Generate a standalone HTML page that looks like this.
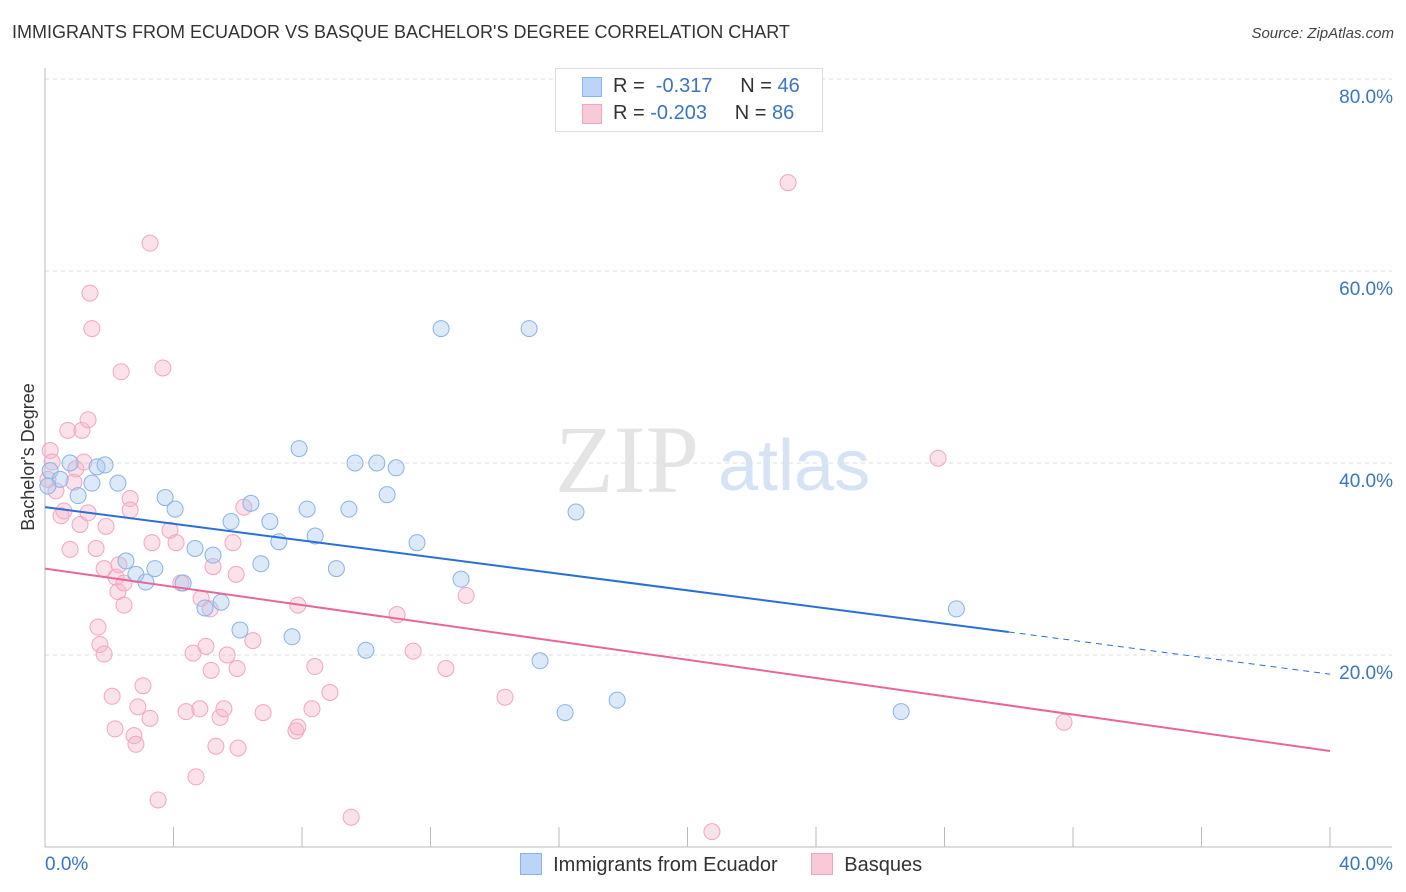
<!DOCTYPE html>
<html><head><meta charset="utf-8"><style>
body{margin:0;background:#fff;font-family:"Liberation Sans",sans-serif}
#wrap{position:relative;width:1406px;height:892px;overflow:hidden}
</style></head><body>
<div id="wrap">
<div style="position:absolute;left:12px;top:22px;font-size:18px;color:#333">IMMIGRANTS FROM ECUADOR VS BASQUE BACHELOR'S DEGREE CORRELATION CHART</div>
<div style="position:absolute;right:12px;top:25px;font-size:15px;color:#444;font-style:italic">Source: ZipAtlas.com</div>
<svg id="plot" width="1406" height="892" style="position:absolute;left:0;top:0"></svg>
</div>
<script>
const yTicks=[20,40,60,80];
const xTicks=[0,4,8,12,16,20,24,28,32,36,40];
const blueX=[0.16,0.47,0.09,1.46,0.78,1.62,1.87,1.03,2.27,2.52,2.83,3.14,3.42,3.74,4.05,4.30,4.67,4.98,5.23,5.48,5.79,6.07,6.41,6.72,7.00,7.28,7.69,7.91,8.16,8.41,9.07,9.46,9.65,9.99,10.33,10.65,10.93,11.58,12.33,12.95,15.07,15.41,16.19,16.53,17.81,26.65,28.37];
const blueY=[39.2,38.3,37.6,37.9,40.0,39.6,39.8,36.6,37.9,29.8,28.4,27.6,29.0,36.4,35.2,27.5,31.1,24.9,30.4,25.5,33.9,22.6,35.8,29.5,33.9,31.8,21.9,41.5,35.2,32.4,29.0,35.2,40.0,20.5,40.0,36.7,39.5,31.7,54.0,27.9,54.0,19.4,14.0,34.9,15.3,14.1,24.8];
const pinkX=[0.16,0.22,0.09,0.34,0.59,0.50,0.78,0.90,0.96,1.09,1.21,1.34,1.40,1.46,0.71,1.15,1.34,1.59,1.65,1.71,1.84,1.90,1.84,2.09,2.18,2.21,2.27,2.30,2.37,2.46,2.46,2.65,2.65,2.77,2.83,2.89,3.05,3.27,3.27,3.33,3.52,3.67,3.89,4.08,4.23,4.39,4.61,4.70,4.82,4.86,5.01,5.14,5.17,5.23,5.32,5.45,5.57,5.67,5.85,5.95,5.98,6.01,6.19,6.47,6.79,7.81,7.87,7.87,8.31,8.40,8.87,9.53,10.96,11.46,12.48,13.11,14.32,20.76,23.13,27.80,31.72];
const pinkY=[41.3,40.1,38.3,37.1,35.0,34.5,31.0,38.0,39.4,33.6,40.1,34.8,57.7,54.0,43.4,43.4,44.5,31.1,22.9,21.1,20.1,33.4,29.0,15.7,12.3,28.1,26.6,29.4,49.5,25.2,27.5,36.3,35.1,11.6,10.7,14.6,16.8,13.4,62.9,31.7,4.9,49.9,33.0,31.7,27.5,14.1,20.2,7.3,14.4,25.9,20.9,24.8,18.4,29.2,10.5,13.5,14.4,20.0,31.7,28.4,18.6,10.3,35.4,21.5,14.0,12.1,12.5,25.2,14.4,18.8,16.1,3.1,24.2,20.4,18.6,26.2,15.6,1.6,69.2,40.5,13.0];
const blueTrend=[35.4,22.4,18.0]; // at x=0, 30, 40
const pinkTrend=[29.0,10.0]; // at x=0, 40
const X=v=>45+v*32.125, Y=v=>847-v*9.6;
const svg=document.getElementById('plot');const NS='http://www.w3.org/2000/svg';
function mk(t,a){const e=document.createElementNS(NS,t);for(const k in a)e.setAttribute(k,a[k]);svg.appendChild(e);return e;}
yTicks.forEach(t=>{
 const g=mk('line',{x1:45,x2:1392,y1:Y(t),y2:Y(t),stroke:'#ddd','stroke-dasharray':'4,4'});
 
 
 const l=mk('text',{x:1393,y:Y(t)+24,'text-anchor':'end','font-size':19,fill:'#3a75c4','font-family':'Liberation Sans'});l.textContent=t.toFixed(1)+'%';
 
 
});
const ax=mk('line',{x1:45,x2:45,y1:68,y2:847,stroke:'#bbb'});


const bx=mk('line',{x1:45,x2:1392,y1:847,y2:847,stroke:'#bbb'});


xTicks.forEach(t=>{const e=mk('line',{x1:X(t),x2:X(t),y1:827,y2:847,stroke:'#bbb'});
 
 });
[[0,'start',45],[40,'end',1393]].forEach(([v,a,x])=>{const l=mk('text',{x:x,y:870,'text-anchor':a,'font-size':19,fill:'#3a75c4','font-family':'Liberation Sans'});l.textContent=v.toFixed(1)+'%';
 
 });
const yl=mk('text',{x:34,y:457,transform:'rotate(-90 34 457)','text-anchor':'middle','font-size':18,fill:'#333','font-family':'Liberation Sans'});yl.textContent="Bachelor's Degree";


const w1=mk('text',{x:555,y:492,'font-size':96,fill:'#e4e4e4','font-family':'Liberation Serif'});w1.textContent='ZIP';


const w2=mk('text',{x:718,y:490,'font-size':72,fill:'#d6e3f5','font-family':'Liberation Sans'});w2.textContent='atlas';


pinkX.forEach((v,i)=>{const c=mk('circle',{cx:X(v),cy:Y(pinkY[i]),r:8,fill:'rgba(246,180,202,0.4)',stroke:'#f2a5c0','stroke-width':1});
 
 });
blueX.forEach((v,i)=>{const c=mk('circle',{cx:X(v),cy:Y(blueY[i]),r:8,fill:'rgba(168,200,240,0.4)',stroke:'#8ab2e6','stroke-width':1});
 
 });
const t1=mk('line',{x1:X(0),y1:Y(blueTrend[0]),x2:X(30),y2:Y(blueTrend[1]),stroke:'#2a6fd6','stroke-width':2});


const t2=mk('line',{x1:X(30),y1:Y(blueTrend[1]),x2:X(40),y2:Y(blueTrend[2]),stroke:'#2a6fd6','stroke-width':1,'stroke-dasharray':'6,5'});


const t3=mk('line',{x1:X(0),y1:Y(pinkTrend[0]),x2:X(40),y2:Y(pinkTrend[1]),stroke:'#e8679a','stroke-width':2});


</script>
<div style="position:absolute;left:555px;top:68px;width:266px;height:62px;border:1px solid #ddd;background:#fff;font-size:20px;color:#333">
 <div style="position:absolute;left:26px;top:8px;width:18px;height:18px;background:#bcd4f6;border:1px solid #8ab2e6"></div>
 <div style="position:absolute;left:57px;top:6px;white-space:nowrap">R = <span style="color:#3a75c4">&nbsp;-0.317</span>&nbsp;&nbsp;&nbsp;&nbsp; N = <span style="color:#3a75c4">46</span></div>
 <div style="position:absolute;left:26px;top:35px;width:18px;height:18px;background:#f9c9d8;border:1px solid #f2a5c0"></div>
 <div style="position:absolute;left:57px;top:33px;white-space:nowrap">R = <span style="color:#3a75c4">-0.203</span>&nbsp;&nbsp;&nbsp;&nbsp; N = <span style="color:#3a75c4">86</span></div>
</div>
<div style="position:absolute;left:520px;top:853px;font-size:20px;color:#333;white-space:nowrap">
 <span><span style="display:inline-block;width:20px;height:20px;background:#bcd4f6;border:1px solid #8ab2e6;vertical-align:-4px"></span>&nbsp; Immigrants from Ecuador</span>
 <span style="margin-left:28px"><span style="display:inline-block;width:20px;height:20px;background:#f9c9d8;border:1px solid #f2a5c0;vertical-align:-4px"></span>&nbsp; Basques</span>
</div>
</body></html>
